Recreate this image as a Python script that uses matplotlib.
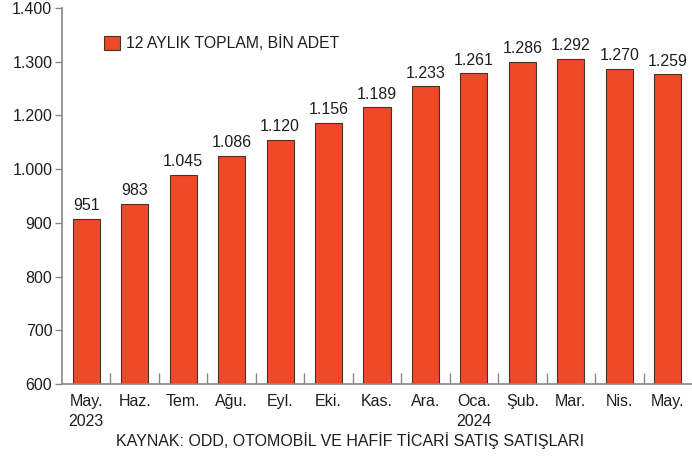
import matplotlib
matplotlib.use("Agg")
import matplotlib.pyplot as plt
import numpy as np
from matplotlib.patches import Rectangle

months = ["May.\n2023", "Haz.", "Tem.", "Ağu.", "Eyl.", "Eki.", "Kas.", "Ara.",
          "Oca.\n2024", "Şub.", "Mar.", "Nis.", "May."]
values = [951, 983, 1045, 1086, 1120, 1156, 1189, 1233, 1261, 1286, 1292, 1270, 1259]
value_labels = ["951", "983", "1.045", "1.086", "1.120", "1.156", "1.189", "1.233",
                "1.261", "1.286", "1.292", "1.270", "1.259"]
# y-axis labels as printed in the reference (8 evenly spaced labels, 1.100 absent)
ytick_labels = ["600", "700", "800", "900", "1.000", "1.200", "1.300", "1.400"]
legend_label = "12 AYLIK TOPLAM, BİN ADET"
source = "KAYNAK: ODD, OTOMOBİL VE HAFİF TİCARİ SATIŞ SATIŞLARI"

plt.rcParams['font.family'] = ['Liberation Sans', 'DejaVu Sans']

W, H = 692, 457
fig = plt.figure(figsize=(W / 100, H / 100), dpi=100)
ax = fig.add_axes([62 / W, 1 - 384 / H, (692 - 62) / W, (384 - 8) / H])

bar_color = "#EE4A28"
edge_color = "#4a3028"
text_color = "#1e1e1e"
x = np.arange(len(values))
ax.bar(x, values, width=0.56, color=bar_color, edgecolor=edge_color, linewidth=0.8,
       zorder=2)
ax.set_ylim(600, 1400)
ax.set_xlim(-0.5, len(values) - 0.5)

for xi, v, lab in zip(x, values, value_labels):
    ax.text(xi, v + 12, lab, ha="center", va="bottom", fontsize=11.5, color=text_color)

ax.set_yticks(np.linspace(600, 1400, len(ytick_labels)))
ax.set_yticklabels(ytick_labels, fontsize=11.5, color=text_color)
ax.tick_params(axis="y", direction="out", length=5, width=1, color="#888888", pad=2)

ax.set_xticks(x)
ax.set_xticklabels(months, fontsize=11.5, color=text_color, linespacing=1.4)
ax.tick_params(axis="x", length=0, pad=7)
ax.set_xticks(np.arange(0.5, len(values) - 0.5, 1), minor=True)
ax.tick_params(axis="x", which="minor", direction="in", length=8, width=1, color="#888888")

for s in ["top", "right"]:
    ax.spines[s].set_visible(False)
for s in ["left", "bottom"]:
    ax.spines[s].set_color("#888888")
    ax.spines[s].set_linewidth(1.2)

# legend
leg = ax.legend([Rectangle((0, 0), 1, 1, facecolor=bar_color, edgecolor=edge_color, linewidth=0.8)],
                [legend_label], loc="upper left", bbox_to_anchor=(0.045, 0.965),
                frameon=False, fontsize=11.3, handlelength=1.0, handleheight=1.0,
                handletextpad=0.4)
for t in leg.get_texts():
    t.set_color(text_color)

fig.text(350 / W, 1 - 441 / H, source, ha="center", va="center", fontsize=11.5, color=text_color)

fig.savefig("out.png", dpi=100)
